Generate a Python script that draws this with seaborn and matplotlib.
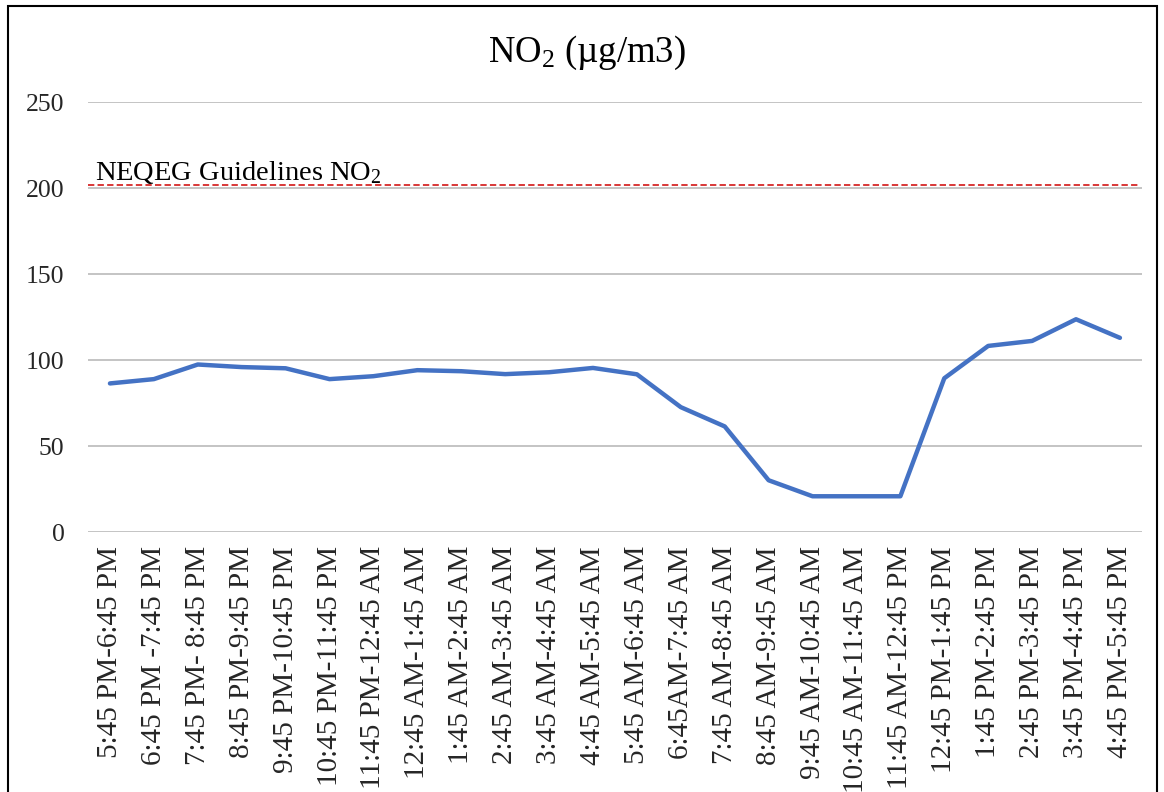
import numpy as np
import pandas as pd
import matplotlib
matplotlib.use("Agg")
import matplotlib.pyplot as plt
from matplotlib.patches import Rectangle
import seaborn as sns

# time windows and hourly NO2 readings
periodos = ["5:45 PM-6:45 PM", "6:45 PM -7:45 PM", "7:45 PM- 8:45 PM", "8:45 PM-9:45 PM",
            "9:45 PM-10:45 PM", "10:45 PM-11:45 PM", "11:45 PM-12:45 AM", "12:45 AM-1:45 AM",
            "1:45 AM-2:45 AM", "2:45 AM-3:45 AM", "3:45 AM-4:45 AM", "4:45 AM-5:45 AM",
            "5:45 AM-6:45 AM", "6:45AM-7:45 AM", "7:45 AM-8:45 AM", "8:45 AM-9:45 AM",
            "9:45 AM-10:45 AM", "10:45 AM-11:45 AM", "11:45 AM-12:45 PM", "12:45 PM-1:45 PM",
            "1:45 PM-2:45 PM", "2:45 PM-3:45 PM", "3:45 PM-4:45 PM", "4:45 PM-5:45 PM"]
no2 = [86.5, 89, 97.5, 96, 95.3, 89, 90.7, 94.2, 93.6, 91.9, 93, 95.5,
       91.8, 72.7, 61.5, 30.2, 20.9, 20.9, 20.9, 89.5, 108.3, 111.2, 123.8, 113]
limite_neqeg = 202

sns.set_style("white")
plt.rcParams['font.family'] = ['Liberation Serif', 'DejaVu Serif']
plt.rcParams['mathtext.fontset'] = 'custom'
plt.rcParams['mathtext.rm'] = 'Liberation Serif'
plt.rcParams['mathtext.it'] = 'Liberation Serif:italic'

df = pd.DataFrame({"pos": np.arange(len(periodos)), "NO2": no2})

fig = plt.figure(figsize=(11.64, 7.92), dpi=100)
ax = fig.add_axes([0.0756, 0.328, 0.9054, 0.543])

# grid lines
ax.set_ylim(0, 250)
ax.set_yticks([0, 50, 100, 150, 200, 250])
ax.yaxis.grid(True, color="#BFBFBF", linewidth=1.3)
ax.set_axisbelow(True)

sns.lineplot(data=df, x="pos", y="NO2", color="#4472C4", linewidth=3.2, sort=False, ax=ax)

ax.axhline(limite_neqeg, color="#D62828", linestyle=(0, (3.5, 1.8)), linewidth=1.3, xmax=0.996)
ax.text(-0.35, limite_neqeg - 0.5, r"NEQEG Guidelines NO$_2$", fontsize=20.5, color="black",
        va="bottom", ha="left")

ax.set_xlim(-0.5, len(periodos) - 0.5)
ax.set_xticks(df["pos"])
ax.set_xticklabels(periodos, rotation=90, fontsize=21)
ax.tick_params(axis="y", labelsize=18.5, length=0, pad=17)
ax.tick_params(axis="x", length=0, pad=10)
ax.set_xlabel("")
ax.set_ylabel("")
for s in ax.spines.values():
    s.set_visible(False)

# title centred on the whole chart area
fig.text(587 / 1164, 1 - 62 / 792, r"NO$_2$ (µg/m3)", fontsize=26.5, color="black",
         ha="center", va="baseline")

# chart border
fig.patches.append(Rectangle((8 / 1164, -0.05), 1149 / 1164, 1.05 - 6 / 792,
                             transform=fig.transFigure, fill=False,
                             edgecolor="black", linewidth=1.5))

fig.savefig("out.png", dpi=100)
